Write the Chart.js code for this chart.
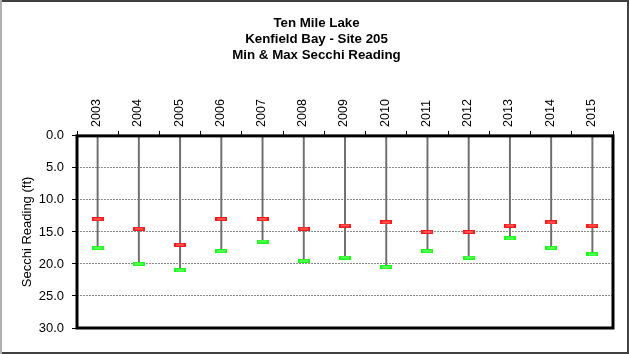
<!DOCTYPE html>
<html><head><meta charset="utf-8">
<script src="https://cdn.jsdelivr.net/npm/chart.js@4/dist/chart.umd.min.js"></script>
<style>html,body{margin:0;padding:0;background:#fff}#wrap{width:629px;height:354px;position:relative}</style>
</head><body><div id="wrap"><canvas id="c" width="629" height="354"></canvas></div>
<script>
const years = ['2003','2004','2005','2006','2007','2008','2009','2010','2011','2012','2013','2014','2015'];
const minSecchi = [13, 14.5, 17, 13, 13, 14.5, 14, 13.5, 15, 15, 14, 13.5, 14];
const maxSecchi = [17.5, 20, 21, 18, 16.5, 19.5, 19, 20.5, 18, 19, 16, 17.5, 18.5];
const yTicks = [0, 5, 10, 15, 20, 25, 30];

function marker(fill, inner) {
  const c = document.createElement('canvas');
  c.width = 12; c.height = 4;
  const g = c.getContext('2d');
  g.fillStyle = fill; g.fillRect(0, 0, 12, 4);
  g.fillStyle = inner; g.fillRect(2, 1.5, 8, 1);
  return c;
}
const redMark = marker('#ff1a1a', '#ff9090');
const greenMark = marker('#1aff1a', '#a0ffa0');

const framePlugin = {
  id: 'frame',
  beforeDraw(chart) {
    const ctx = chart.ctx;
    ctx.save();
    ctx.fillStyle = '#fff';
    ctx.fillRect(0, 0, chart.width, chart.height);
    ctx.restore();
  },
  afterDraw(chart) {
    const ctx = chart.ctx, a = chart.chartArea;
    ctx.save();
    ctx.strokeStyle = '#000'; ctx.lineWidth = 3;
    ctx.strokeRect(a.left, a.top, a.right - a.left, a.bottom - a.top);
    ctx.lineWidth = 2;
    ctx.strokeStyle = '#404040';
    ctx.beginPath();
    ctx.moveTo(0, 1); ctx.lineTo(chart.width - 1, 1); ctx.lineTo(chart.width - 1, chart.height - 1); ctx.lineTo(0, chart.height - 1);
    ctx.stroke();
    ctx.strokeStyle = '#b0b0b0';
    ctx.beginPath(); ctx.moveTo(1, 0); ctx.lineTo(1, chart.height); ctx.stroke();
    ctx.restore();
  }
};

new Chart(document.getElementById('c'), {
  data: {
    labels: years,
    datasets: [
      { type: 'line', label: 'Min', data: minSecchi, showLine: false, pointStyle: redMark, order: 1 },
      { type: 'line', label: 'Max', data: maxSecchi, showLine: false, pointStyle: greenMark, order: 2 },
      { type: 'bar', label: 'Range', data: maxSecchi.map(v => [0, v]), backgroundColor: '#6e6e6e', barThickness: 1.3, order: 3 }
    ]
  },
  options: {
    responsive: false,
    animation: false,
    layout: { padding: { left: 20, right: 16, top: 0, bottom: 26 } },
    plugins: {
      legend: { display: false },
      tooltip: { enabled: false },
      title: {
        display: true,
        text: ['Ten Mile Lake', 'Kenfield Bay - Site 205', 'Min & Max Secchi Reading'],
        font: { family: 'Liberation Sans, Arial', size: 13.3, weight: 'bold' },
        color: '#000',
        lineHeight: 1.2,
        padding: { top: 15, bottom: 6 }
      }
    },
    scales: {
      x: {
        type: 'category',
        position: 'top',
        offset: true,
        grid: { offset: true, drawOnChartArea: false, tickLength: 5, color: '#000', lineWidth: 1 },
        border: { display: false },
        ticks: { minRotation: 90, maxRotation: 90, labelOffset: 14, color: '#000', padding: 4, font: { family: 'Liberation Sans, Arial', size: 12.5 } },
        afterFit(s) { s.height = 67; }
      },
      y: {
        type: 'linear',
        reverse: true,
        min: 0, max: 30,
        afterBuildTicks(s) { s.ticks = yTicks.map(v => ({ value: v })); },
        grid: { color: '#8c8c8c', lineWidth: 1, tickLength: 5, tickColor: '#000', tickBorderDash: [], borderDash: [2, 1] },
        border: { display: false, dash: [2, 1] },
        ticks: { color: '#000', padding: 8, font: { family: 'Liberation Sans, Arial', size: 13 }, callback: v => Number(v).toFixed(1) },
        title: { display: true, text: 'Secchi Reading (ft)', color: '#000', font: { family: 'Liberation Sans, Arial', size: 13 }, padding: { top: 0, bottom: 0 } },
        afterFit(s) { s.width = 57; }
      }
    }
  },
  plugins: [framePlugin]
});
</script></body></html>
